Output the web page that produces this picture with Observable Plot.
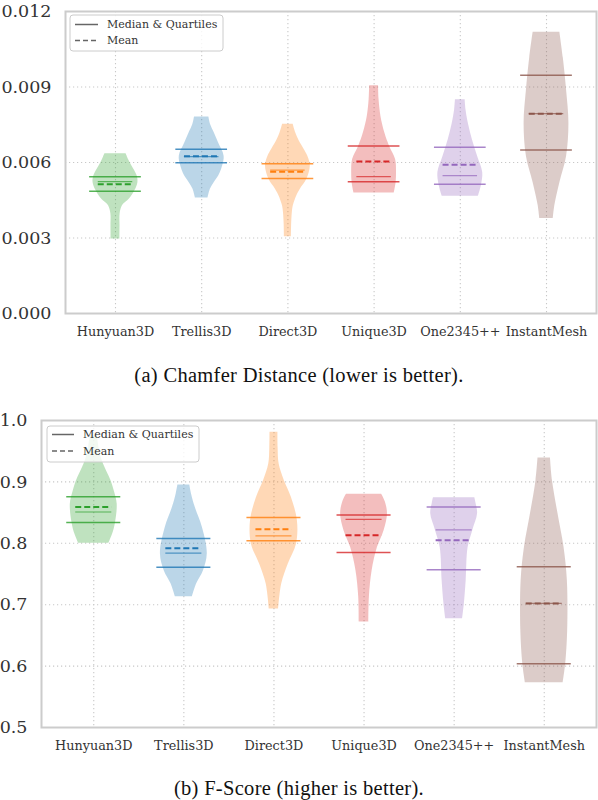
<!DOCTYPE html>
<html><head><meta charset="utf-8">
<script src="https://cdn.jsdelivr.net/npm/d3@7"></script>
<script src="https://cdn.jsdelivr.net/npm/@observablehq/plot@0.6"></script>
<style>
body{margin:0;background:#fff;width:598px;overflow:hidden;}
svg{display:block;}
svg text{font-family:"DejaVu Serif","Liberation Serif",serif;}
.cap{width:598px;text-align:center;font-family:"Liberation Serif",serif;font-size:20.5px;letter-spacing:0.3px;color:#111;}
</style></head><body>
<div id="c1"></div>
<div class="cap" style="height:50px;line-height:50px;">(a) Chamfer Distance (lower is better).</div>
<div id="c2"></div>
<div class="cap" style="height:42px;line-height:42px;">(b) F-Score (higher is better).</div>
<script>
const models = ["Hunyuan3D","Trellis3D","Direct3D","Unique3D","One2345++","InstantMesh"];
const colors = ["#2ca02c","#1f77b4","#ff7f0e","#d62728","#9467bd","#8c564b"];
const chamferTicks = [0, 0.003, 0.006, 0.009, 0.012];
const fscoreTicks = [0.5, 0.6, 0.7, 0.8, 0.9, 1.0];

// violin profiles: [value, relative density]
const chamferProfiles = [
  [[0.00296,4.5],[0.0035,4.6],[0.00396,4.7],[0.00429,7.2],[0.00455,14.2],[0.0049,20],[0.0052,22.8],[0.00547,22],[0.00586,16.7],[0.0061,13.5],[0.00635,10.8]],
  [[0.00459,6.3],[0.00494,8.7],[0.0052,12.5],[0.00547,17.2],[0.00586,21],[0.00625,22.5],[0.00677,17],[0.00716,12.8],[0.0075,9],[0.00781,7.2]],
  [[0.00305,3.5],[0.0036,3.8],[0.00403,4.5],[0.00429,5.5],[0.00468,9],[0.00494,12.5],[0.00533,19],[0.00586,22.5],[0.00625,20],[0.00651,16.5],[0.00677,12.5],[0.00716,8],[0.00752,5.3]],
  [[0.00479,19.5],[0.0052,21.3],[0.0056,21.7],[0.00612,20.8],[0.00664,15],[0.00716,10.5],[0.00781,6.7],[0.0085,4.8],[0.00905,4.3]],
  [[0.00466,17.5],[0.0051,20.5],[0.0056,21.7],[0.00625,16.7],[0.0069,11.7],[0.00755,7.8],[0.0081,5.5],[0.00849,4.7]],
  [[0.00377,6.7],[0.00429,8.3],[0.0052,13.3],[0.00625,20],[0.00755,22.3],[0.00886,20],[0.01016,16.7],[0.01118,13.3]]
];
const chamferQ1 = [0.00486, 0.00599, 0.00536, 0.00524, 0.00514, 0.0065];
const chamferMedian = [0.00524, 0.00623, 0.0057, 0.00544, 0.00548, 0.00794];
const chamferMean = [0.00514, 0.00625, 0.00563, 0.00604, 0.00591, 0.00794];
const chamferQ3 = [0.00543, 0.00653, 0.00595, 0.00666, 0.00661, 0.00947];

const fscoreProfiles = [
  [[0.80,14],[0.815,17.5],[0.832,20],[0.864,21.7],[0.885,19],[0.902,16],[0.929,9],[0.95,5.5],[0.975,3.3]],
  [[0.713,8.3],[0.734,12.5],[0.755,19],[0.783,22.8],[0.826,18],[0.859,11],[0.88,7.5],[0.895,5.8]],
  [[0.693,4.5],[0.734,7.5],[0.766,13.7],[0.799,21.7],[0.837,22.5],[0.875,16.7],[0.902,10],[0.929,5],[0.955,4],[0.981,3.8]],
  [[0.672,4.8],[0.712,5.3],[0.755,8],[0.793,13.3],[0.821,20],[0.848,23.3],[0.868,21],[0.88,17.5]],
  [[0.677,8.3],[0.701,10],[0.739,11.8],[0.793,13.7],[0.821,18.3],[0.848,23],[0.865,21.5],[0.874,20.3]],
  [[0.573,18.8],[0.603,21.3],[0.658,23.3],[0.739,23],[0.793,19.7],[0.848,13.7],[0.902,8.2],[0.939,6.2]]
];
const fscoreQ1 = [0.834, 0.761, 0.804, 0.785, 0.757, 0.604];
const fscoreMedian = [0.851, 0.784, 0.812, 0.839, 0.822, 0.702];
const fscoreMean = [0.859, 0.792, 0.823, 0.813, 0.805, 0.702];
const fscoreQ3 = [0.876, 0.808, 0.842, 0.846, 0.859, 0.762];

const positions = models.map((m, i) => i + 1);
const SERIF = "'DejaVu Serif', 'Liberation Serif', serif";

function violinChart(o) {
  const area = [];
  o.profiles.forEach((p, i) => {
    const m = d3.max(p, d => d[1]);
    p.forEach(([v, d]) => area.push({i: i + 1, v, w: d / m * 0.26, model: models[i]}));
  });
  const stats = models.map((m, i) => ({i: i + 1, model: m, q1: o.q1[i], med: o.med[i], mean: o.mean[i], q3: o.q3[i]}));
  const grid = {stroke: "#c8c8c8", strokeOpacity: 1, strokeDasharray: "1.2,2.8", strokeWidth: 1.1};
  const svg = Plot.plot({
    width: 598, height: o.height,
    marginLeft: o.marginLeft, marginRight: 2, marginTop: o.marginTop, marginBottom: o.marginBottom,
    style: {fontFamily: SERIF, background: "#fff"},
    x: {domain: [0.42, 6.58]},
    y: {domain: o.domain},
    color: {domain: models, range: colors},
    marks: [
      Plot.gridY(o.ticks, grid),
      Plot.gridX(positions, grid),
      Plot.areaX(area, {y: "v", x1: d => d.i - d.w, x2: d => d.i + d.w, z: "model", fill: "model", fillOpacity: 0.3, curve: "catmull-rom"}),
      Plot.ruleY(stats, {y: "q1", x1: d => d.i - 0.3, x2: d => d.i + 0.3, stroke: "model", strokeWidth: 1.5, strokeOpacity: 0.8}),
      Plot.ruleY(stats, {y: "q3", x1: d => d.i - 0.3, x2: d => d.i + 0.3, stroke: "model", strokeWidth: 1.5, strokeOpacity: 0.8}),
      Plot.ruleY(stats, {y: "med", x1: d => d.i - 0.2, x2: d => d.i + 0.2, stroke: "model", strokeWidth: 1.2, strokeOpacity: 0.7}),
      Plot.ruleY(stats, {y: "mean", x1: d => d.i - 0.2, x2: d => d.i + 0.2, stroke: "model", strokeWidth: 2, strokeDasharray: "6,3"}),
      Plot.axisX(positions, {tickSize: 0, tickPadding: 13, tickFormat: i => models[i - 1], fontSize: 12.8, fontFamily: SERIF, fill: "#333", label: null}),
      Plot.axisY(o.ticks, {tickSize: 0, tickPadding: 14, tickFormat: o.fmt, fontSize: 17.5, fontFamily: SERIF, fill: "#333", label: null}),
      Plot.frame({stroke: "#cccccc", strokeWidth: 2})
    ]
  });
  // legend
  const L = o.legend;
  const g = d3.select(svg).append("g").attr("font-family", SERIF).attr("font-size", 11).attr("fill", "#333").attr("text-anchor", "start");
  g.append("rect").attr("x", L.x).attr("y", L.y).attr("width", L.w).attr("height", L.h).attr("rx", 3)
    .attr("fill", "#fff").attr("fill-opacity", 0.8).attr("stroke", "#cccccc").attr("stroke-width", 1);
  g.append("line").attr("x1", L.lx1).attr("x2", L.lx2).attr("y1", L.r1).attr("y2", L.r1).attr("stroke", "#666").attr("stroke-width", 1.5);
  g.append("line").attr("x1", L.lx1).attr("x2", L.lx2).attr("y1", L.r2).attr("y2", L.r2).attr("stroke", "#666").attr("stroke-width", 1.5).attr("stroke-dasharray", "5,3");
  g.append("text").attr("x", L.tx).attr("y", L.r1).attr("dy", "0.35em").attr("text-anchor", "start").text("Median & Quartiles");
  g.append("text").attr("x", L.tx).attr("y", L.r2).attr("dy", "0.35em").attr("text-anchor", "start").text("Mean");
  return svg;
}

document.getElementById("c1").appendChild(violinChart({
  profiles: chamferProfiles, q1: chamferQ1, med: chamferMedian, mean: chamferMean, q3: chamferQ3,
  ticks: chamferTicks, domain: [0, 0.012], fmt: d3.format(".3f"),
  height: 350, marginTop: 11, marginBottom: 37, marginLeft: 65,
  legend: {x: 70, y: 15, w: 153, h: 36, lx1: 75, lx2: 98, tx: 107, r1: 24.5, r2: 40.5}
}));
document.getElementById("c2").appendChild(violinChart({
  profiles: fscoreProfiles, q1: fscoreQ1, med: fscoreMedian, mean: fscoreMean, q3: fscoreQ3,
  ticks: fscoreTicks, domain: [0.5, 1.0], fmt: d3.format(".1f"),
  height: 367, marginTop: 20, marginBottom: 40, marginLeft: 41,
  legend: {x: 47, y: 26, w: 152, h: 36, lx1: 52, lx2: 74, tx: 83, r1: 34.5, r2: 51}
}));
</script>
</body></html>
